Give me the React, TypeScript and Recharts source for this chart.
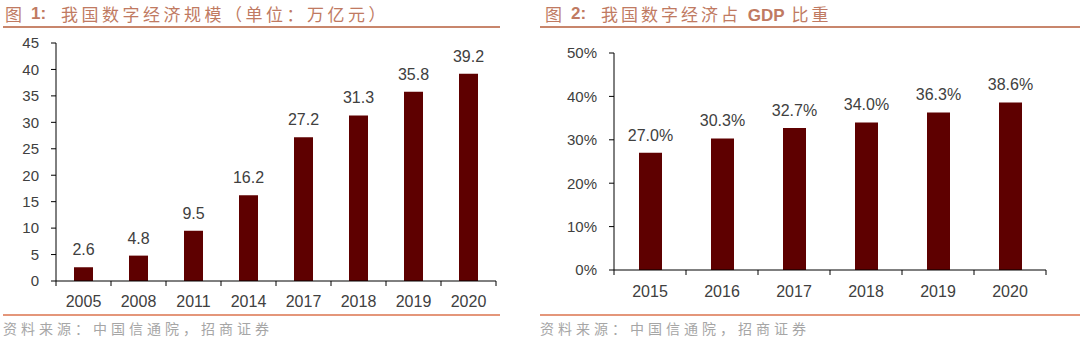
import React from 'react';
import { BarChart, Bar, XAxis, YAxis, LabelList } from 'recharts';

const scaleYears = ['2005', '2008', '2011', '2014', '2017', '2018', '2019', '2020'];
const scaleValues = [2.6, 4.8, 9.5, 16.2, 27.2, 31.3, 35.8, 39.2];
const scaleTicks = [0, 5, 10, 15, 20, 25, 30, 35, 40, 45];

const shareYears = ['2015', '2016', '2017', '2018', '2019', '2020'];
const shareValues = [27.0, 30.3, 32.7, 34.0, 36.3, 38.6];
const shareTicks = [0, 10, 20, 30, 40, 50];

const leftData = scaleYears.map((y, i) => ({ year: y, value: scaleValues[i] }));
const rightData = shareYears.map((y, i) => ({ year: y, value: shareValues[i] }));

const BAR = '#5e0000';
const TXT = '#404040';
const FONT = '"Liberation Sans", Arial, sans-serif';
const CJK = '"Noto Sans CJK SC", sans-serif';
const TITLE = '#c07a62';

const makeTick = (band: number, margin: number, count: number) => (props: any) => {
  const { x, y, payload, index } = props;
  const axisY = y - margin;
  return (
    <g>
      <line x1={x - band / 2} x2={x - band / 2} y1={axisY} y2={axisY + 5} stroke="#000" />
      {index === count - 1 && (
        <line x1={x + band / 2} x2={x + band / 2} y1={axisY} y2={axisY + 5} stroke="#000" />
      )}
      <text x={x} y={y} dy="0.71em" textAnchor="middle" fill={TXT} fontSize={16} fontFamily={FONT}>
        {payload.value}
      </text>
    </g>
  );
};

const Title = ({ left, num, rest, gdp }: { left: number; num: string; rest: string; gdp?: boolean }) => (
  <>
    <div style={{ position: 'absolute', left: left + 5, top: 2, fontFamily: CJK, fontSize: 17, color: TITLE, lineHeight: '24px' }}>图</div>
    <div style={{ position: 'absolute', left: left + 31, top: 2, fontFamily: FONT, fontWeight: 'bold', fontSize: 17, color: TITLE, lineHeight: '24px' }}>{num}:</div>
    <div style={{ position: 'absolute', left: left + 61, top: 2, fontFamily: CJK, fontSize: 17, letterSpacing: gdp ? 3 : 3.5, color: TITLE, lineHeight: '24px', whiteSpace: 'nowrap' }}>
      {gdp ? (
        <>
          我国数字经济占 <span style={{ fontFamily: FONT, fontWeight: 'bold', letterSpacing: 0 }}>GDP</span> 比重
        </>
      ) : (
        rest
      )}
    </div>
  </>
);

const Source = ({ left }: { left: number }) => (
  <div style={{ position: 'absolute', left: left + 3, top: 318, fontFamily: CJK, fontSize: 14, letterSpacing: 4, color: '#a6a6a6', lineHeight: '20px', whiteSpace: 'nowrap' }}>
    资料来源：中国信通院，招商证券
  </div>
);

const Line = ({ left, width, top, color, h }: { left: number; width: number; top: number; color: string; h: number }) => (
  <div style={{ position: 'absolute', left, top, width, height: h, background: color }} />
);

export default function App() {
  return (
    <div style={{ position: 'absolute', left: 0, top: 0, width: 1080, height: 341, background: '#fff', overflow: 'hidden' }}>
      <Title left={0} num="1" rest="我国数字经济规模（单位：万亿元）" />
      <Title left={540} num="2" rest="" gdp />
      <Line left={3} width={497} top={26} color="#c8866c" h={2} />
      <Line left={540} width={540} top={26} color="#c8866c" h={2} />
      <Line left={3} width={497} top={314} color="#e4967a" h={2} />
      <Line left={540} width={540} top={314} color="#e4967a" h={2} />
      <Source left={0} />
      <Source left={537} />

      <div style={{ position: 'absolute', left: 0, top: 0 }}>
        <BarChart width={510} height={341} data={leftData} margin={{ top: 43, right: 14, left: 0, bottom: 30 }}>
          <XAxis
            dataKey="year"
            height={30}
            axisLine={{ stroke: '#000' }}
            tickLine={false}
            tickSize={0}
            tickMargin={15}
            interval={0}
            tick={makeTick(55, 15, scaleYears.length)}
          />
          <YAxis
            width={56}
            domain={[0, 45]}
            ticks={scaleTicks}
            interval={0}
            axisLine={{ stroke: '#000' }}
            tickLine={{ stroke: '#000' }}
            tickSize={5}
            tickMargin={12}
            tick={{ fill: TXT, fontSize: 15, fontFamily: FONT }}
          />
          <Bar dataKey="value" fill={BAR} barSize={19} isAnimationActive={false}>
            <LabelList dataKey="value" position="top" offset={12} fill={TXT} fontSize={16} fontFamily={FONT} formatter={(v: any) => Number(v).toFixed(1)} />
          </Bar>
        </BarChart>
      </div>

      <div style={{ position: 'absolute', left: 540, top: 0 }}>
        <BarChart width={520} height={341} data={rightData} margin={{ top: 53, right: 14, left: 0, bottom: 41 }}>
          <XAxis
            dataKey="year"
            height={30}
            axisLine={{ stroke: '#000' }}
            tickLine={false}
            tickSize={0}
            tickMargin={16}
            interval={0}
            tick={makeTick(72, 16, shareYears.length)}
          />
          <YAxis
            width={74}
            domain={[0, 50]}
            ticks={shareTicks}
            interval={0}
            axisLine={{ stroke: '#000' }}
            tickLine={{ stroke: '#000' }}
            tickSize={5}
            tickMargin={12}
            tickFormatter={(v: number) => `${v}%`}
            tick={{ fill: TXT, fontSize: 15, fontFamily: FONT }}
          />
          <Bar dataKey="value" fill={BAR} barSize={23} isAnimationActive={false}>
            <LabelList dataKey="value" position="top" offset={12} fill={TXT} fontSize={16} fontFamily={FONT} formatter={(v: any) => `${Number(v).toFixed(1)}%`} />
          </Bar>
        </BarChart>
      </div>
    </div>
  );
}
